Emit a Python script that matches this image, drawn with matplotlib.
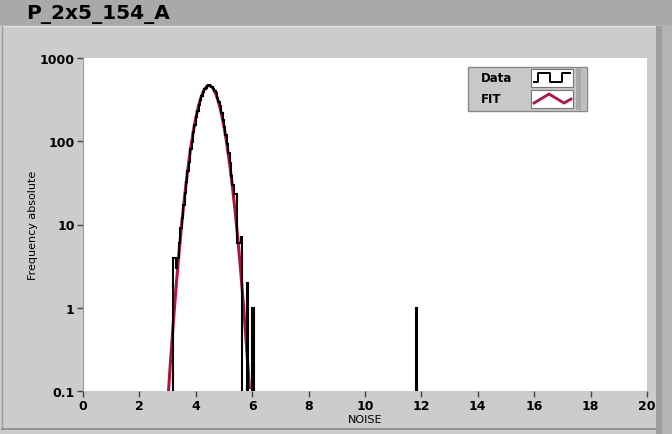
import numpy as np
import matplotlib.pyplot as plt
from matplotlib.patches import Rectangle
from matplotlib.lines import Line2D

# ---------------------------------------------------------
# Noise histogram (bin width 0.05) with gaussian fit, log y
# ---------------------------------------------------------

title = "P_2x5_154_A"
x_label = "NOISE"
y_label = "Frequency absolute"

bin_width = 0.05
# left edges of the filled bins and their counts
bin_left = [3.20, 3.25, 3.30, 3.35, 3.40, 3.45, 3.50, 3.55, 3.60, 3.65,
            3.70, 3.75, 3.80, 3.85, 3.90, 3.95, 4.00, 4.05, 4.10, 4.15,
            4.20, 4.25, 4.30, 4.35, 4.40, 4.45, 4.50, 4.55, 4.60, 4.65,
            4.70, 4.75, 4.80, 4.85, 4.90, 4.95, 5.00, 5.05, 5.10, 5.15,
            5.20, 5.25, 5.30, 5.35, 5.40, 5.45, 5.50, 5.55, 5.60,
            5.80, 6.00, 11.80]
counts = [4, 4, 3, 4, 6, 9, 12, 17, 24, 32,
          44, 56, 80, 98, 130, 155, 198, 228, 275, 312,
          350, 390, 420, 438, 465, 472, 460, 445, 430, 405,
          375, 335, 300, 262, 218, 182, 150, 120, 92, 72,
          55, 38, 30, 23, 23, 6, 6, 6, 7,
          2, 1, 1]

# fitted curve, sampled every 0.1
fit_x = [3.0, 3.1, 3.2, 3.3, 3.4, 3.5, 3.6, 3.7, 3.8, 3.9,
         4.0, 4.1, 4.2, 4.3, 4.4, 4.5, 4.6, 4.7, 4.8, 4.9,
         5.0, 5.1, 5.2, 5.3, 5.4, 5.5, 5.6, 5.7, 5.8, 5.9]
fit_y = [0.069, 0.22, 0.65, 1.76, 4.4, 10.1, 21.4, 41.8, 75.2, 125,
         191, 269, 349, 418, 461, 468, 439, 379, 301, 221,
         149, 93, 53.4, 28.3, 13.8, 6.2, 2.56, 0.98, 0.34, 0.11]

x_ticks = [0, 2, 4, 6, 8, 10, 12, 14, 16, 18, 20]
y_ticks = [0.1, 1, 10, 100, 1000]
y_tick_labels = ["0.1", "1", "10", "100", "1000"]

W, H = 672, 435
panel_gray = "#cccccc"
title_gray = "#a9a9a9"
fit_red = "#b5123f"

fig = plt.figure(figsize=(W / 100, H / 100), dpi=100, facecolor=panel_gray)


def px_rect(x0, y0, x1, y1, **kw):
    # rectangle given in image pixels (origin top-left)
    r = Rectangle((x0 / W, 1 - y1 / H), (x1 - x0) / W, (y1 - y0) / H,
                  transform=fig.transFigure, **kw)
    fig.add_artist(r)
    return r


def px_line(xs, ys, **kw):
    ln = Line2D([x / W for x in xs], [1 - y / H for y in ys],
                transform=fig.transFigure, **kw)
    fig.add_artist(ln)
    return ln


# window chrome: title bar, panel borders, right-hand strips
px_rect(0, 0, W, 27, facecolor=title_gray, edgecolor="none", zorder=0)
px_line([0, W], [27, 27], color="#e4e4e4", lw=1, zorder=1)
px_line([2, 2], [27, 430], color="#9a9a9a", lw=1, zorder=1)
px_line([2, 656], [430, 430], color="#8a8a8a", lw=1.2, zorder=1)
px_rect(656, 27, 662, H, facecolor="#9e9e9e", edgecolor="none", zorder=1)
px_rect(662, 27, W, H, facecolor="#b4b4b4", edgecolor="none", zorder=1)
fig.text(26 / W, 1 - 14 / H, title, ha="left", va="center",
         fontsize=14.5, fontweight="bold", color="black")

ax = fig.add_axes([83 / W, 1 - 392 / H, 564 / W, 333 / H])
ax.set_facecolor("white")

# full bin grid from the listed bins
edges = np.round(np.arange(3.0, 12.0 + bin_width / 2, bin_width), 2)
hist = np.zeros(len(edges) - 1)
for left, c in zip(bin_left, counts):
    i = int(round((left - 3.0) / bin_width))
    hist[i] = c
hist_plot = np.where(hist > 0, hist, 1e-3)  # empty bins drop below the axis

ax.stairs(hist_plot, edges, color="black", lw=1.5, baseline=1e-3, zorder=3)
ax.plot(fit_x, fit_y, color=fit_red, lw=2.2, zorder=2)

ax.set_yscale("log")
ax.set_xlim(0, 20)
ax.set_ylim(0.1, 1000)
ax.set_xticks(x_ticks)
ax.set_xticklabels([str(t) for t in x_ticks])
ax.set_yticks(y_ticks)
ax.set_yticklabels(y_tick_labels)
ax.minorticks_off()
ax.tick_params(axis="both", direction="out", length=4, width=1,
               color="#444444", labelsize=9, pad=2)
for lbl in ax.get_xticklabels() + ax.get_yticklabels():
    lbl.set_fontweight("bold")
for side in ["top", "right", "bottom"]:
    ax.spines[side].set_visible(False)
ax.spines["left"].set_color("#999999")
ax.set_xlabel(x_label, fontsize=8, labelpad=1)
ax.set_ylabel(y_label, fontsize=8, labelpad=1)

# legend box in the LabVIEW style
px_rect(468, 68, 587, 112, facecolor="#c8c8c8", edgecolor="#888888", lw=1, zorder=5)
px_rect(576, 69, 581, 111, facecolor="#a8a8a8", edgecolor="none", zorder=6)
px_rect(581, 69, 586, 111, facecolor="#bdbdbd", edgecolor="none", zorder=6)
px_rect(531, 70, 573, 88, facecolor="white", edgecolor="#777777", lw=0.8, zorder=6)
px_rect(531, 91, 573, 109, facecolor="white", edgecolor="#777777", lw=0.8, zorder=6)
fig.text(481 / W, 1 - 79 / H, "Data", fontsize=8.5, fontweight="bold",
         va="center", ha="left", zorder=7)
fig.text(481 / W, 1 - 100 / H, "FIT", fontsize=8.5, fontweight="bold",
         va="center", ha="left", zorder=7)
px_line([534, 538, 538, 550, 550, 562, 562, 570],
        [83, 83, 74, 74, 83, 83, 74, 74], color="black", lw=1.4, zorder=7)
px_line([534, 549, 564, 571], [104, 95, 104, 100], color=fit_red, lw=2, zorder=7)

fig.savefig("out.png", dpi=100, facecolor=fig.get_facecolor())
